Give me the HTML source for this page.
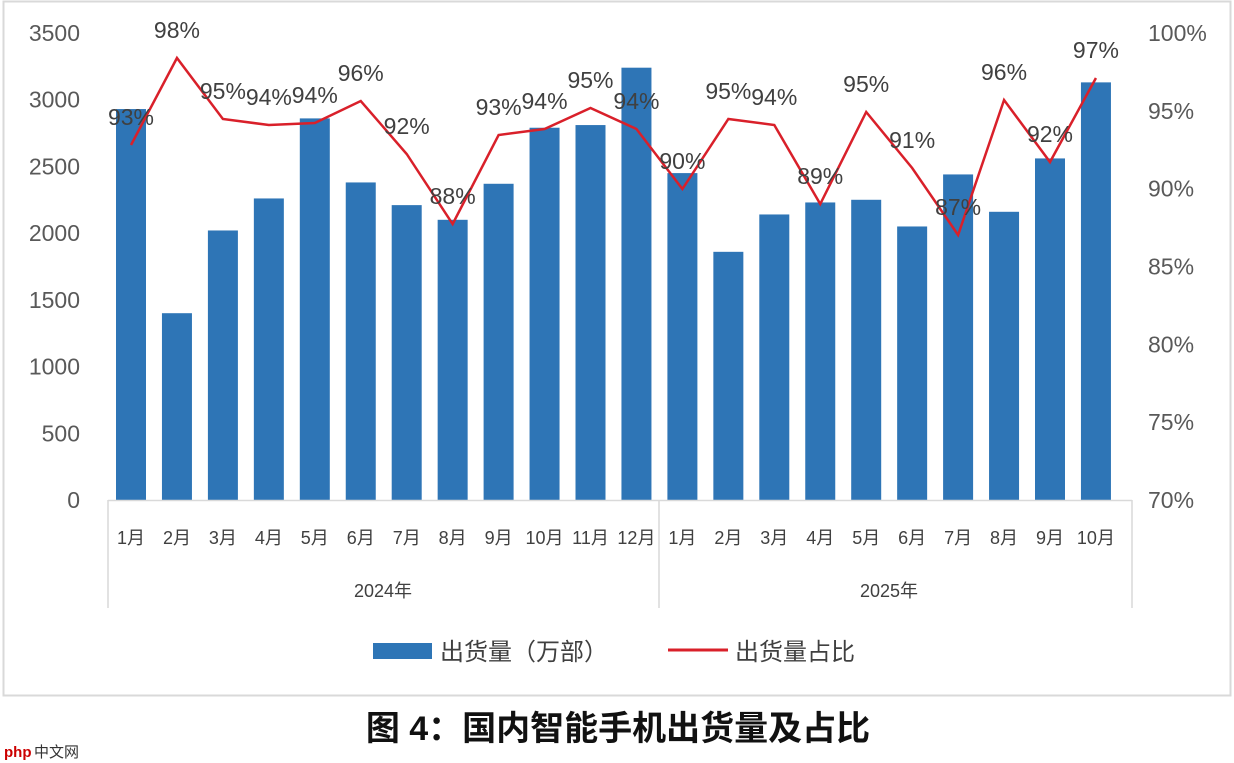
<!DOCTYPE html>
<html><head><meta charset="utf-8"><style>
body{margin:0;background:#fff;width:1234px;height:763px;overflow:hidden}
svg{display:block}
text{font-family:"Liberation Sans","Noto Sans CJK SC",sans-serif}
</style></head><body>
<svg width="1234" height="763" viewBox="0 0 1234 763">
<rect x="3.5" y="1.5" width="1227" height="694" fill="#fff" stroke="#d9d9d9" stroke-width="2"/>
<g id="c"></g>
<text x="618" y="740" text-anchor="middle" font-size="34" font-weight="bold" fill="#111">图 4：国内智能手机出货量及占比</text>
<text x="4" y="757" font-size="15" fill="#c00" font-weight="bold">php</text><text x="34" y="757" font-size="15" fill="#333">中文网</text>
</svg>
<script>
const g=document.getElementById('c');let s='';
const bars=[2930,1400,2020,2260,2860,2380,2210,2100,2370,2790,2810,3240,2450,1860,2140,2230,2250,2050,2440,2160,2560,3130];
const ly=[145,58,119,125,123,101,154,224,135,129,108,129,189,119,125,204,112,168,235,100,162,78];
const pct=[93,98,95,94,94,96,92,88,93,94,95,94,90,95,94,89,95,91,87,96,92,97];
const lab=["1月","2月","3月","4月","5月","6月","7月","8月","9月","10月","11月","12月","1月","2月","3月","4月","5月","6月","7月","8月","9月","10月"];
const y0=500,k=467/3500;
for(let i=0;i<8;i++){const y=y0-i*500*k;s+=`<text x="80" y="${y+8}" text-anchor="end" font-size="23" fill="#595959">${i*500}</text>`;}
for(let i=0;i<7;i++){const y=y0-i*467/6;s+=`<text x="1148" y="${y+8}" font-size="23" fill="#595959">${70+i*5}%</text>`;}
for(let i=0;i<22;i++){const cx=131+i*45.95,h=bars[i]*k;
s+=`<rect x="${cx-15}" y="${y0-h}" width="30" height="${h}" fill="#2e75b6"/>`;
s+=`<text x="${cx}" y="544" text-anchor="middle" font-size="18" fill="#404040">${lab[i]}</text>`;}
s+=`<line x1="108" y1="500.5" x2="1132" y2="500.5" stroke="#d9d9d9" stroke-width="1.5"/>`;
s+=`<line x1="108" y1="500" x2="108" y2="608" stroke="#d9d9d9" stroke-width="1.5"/><line x1="659" y1="500" x2="659" y2="608" stroke="#d9d9d9" stroke-width="1.5"/><line x1="1132" y1="500" x2="1132" y2="608" stroke="#d9d9d9" stroke-width="1.5"/>`;
s+=`<text x="383" y="597" text-anchor="middle" font-size="18" fill="#404040">2024年</text><text x="889" y="597" text-anchor="middle" font-size="18" fill="#404040">2025年</text>`;
let p=ly.map((y,i)=>`${131+i*45.95},${y}`).join(' ');
s+=`<polyline points="${p}" fill="none" stroke="#d9202a" stroke-width="2.5"/>`;
for(let i=0;i<22;i++){s+=`<text x="${131+i*45.95}" y="${ly[i]-20}" text-anchor="middle" font-size="23" fill="#404040">${pct[i]}%</text>`;}
s+=`<rect x="373" y="643" width="59" height="16" fill="#2e75b6"/><text x="440" y="660" font-size="24" fill="#404040">出货量（万部）</text>`;
s+=`<line x1="668" y1="650" x2="728" y2="650" stroke="#d9202a" stroke-width="3"/><text x="735" y="660" font-size="24" fill="#404040">出货量占比</text>`;
g.innerHTML=s;
</script>
</body></html>
